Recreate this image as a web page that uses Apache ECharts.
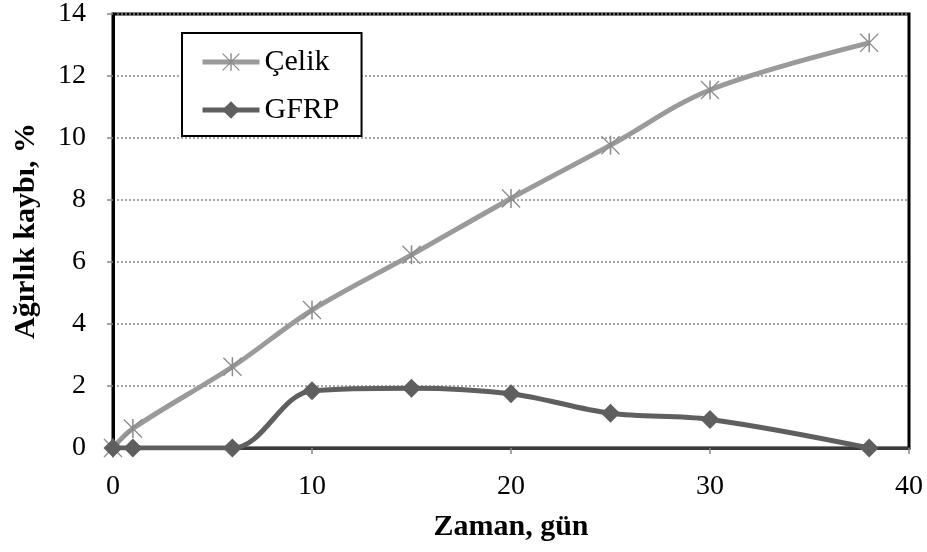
<!DOCTYPE html>
<html>
<head>
<meta charset="utf-8">
<script src="https://cdn.jsdelivr.net/npm/echarts@6/dist/echarts.min.js"></script>
<style>html,body{margin:0;padding:0;background:#fff;}#c{width:927px;height:552px;}</style>
</head>
<body>
<div id="c"></div>
<script>
var days = [0, 1, 6, 10, 15, 20, 25, 30, 38];
var celik = [0, 0.63, 2.62, 4.45, 6.23, 8.05, 9.77, 11.55, 13.07];
var gfrp = [0, 0, 0, 1.85, 1.93, 1.75, 1.12, 0.92, 0];
var seriesNames = ['Çelik', 'GFRP'];
var xTitle = 'Zaman, gün';
var yTitle = 'Ağırlık kaybı, %';

function pairs(xs, ys) { return xs.map(function (x, i) { return [x, ys[i]]; }); }

var starPath = 'path://M46,0 L54,0 L54,100 L46,100 Z M0,5 L5,0 L100,95 L95,100 Z M95,0 L100,5 L5,100 L0,95 Z';
var FONT = '"Liberation Serif", "Times New Roman", serif';

var chart = echarts.init(document.getElementById('c'), null, { renderer: 'canvas' });
chart.setOption({
  animation: false,
  backgroundColor: '#fff',
  grid: { left: 113, right: 18, top: 14, bottom: 104, show: true, borderColor: '#000', borderWidth: 3, backgroundColor: 'transparent' },
  legend: {
    orient: 'vertical', left: 182, top: 33,
    padding: [12, 22, 9, 18],
    itemGap: 14, itemWidth: 57, itemHeight: 22,
    borderColor: '#000', borderWidth: 2, backgroundColor: '#fff',
    lineStyle: { width: 5 },
    textStyle: { fontFamily: FONT, fontSize: 30, color: '#000', lineHeight: 34 },
    data: seriesNames
  },
  xAxis: {
    type: 'value', min: 0, max: 40, interval: 10,
    name: xTitle, nameLocation: 'middle', nameGap: 64,
    nameTextStyle: { fontFamily: FONT, fontSize: 30, fontWeight: 'bold', color: '#000' },
    axisLine: { show: true, onZero: false, lineStyle: { color: '#3a3a3a', width: 3 } },
    axisTick: { show: true, length: 6, lineStyle: { color: '#888', width: 1.5 } },
    axisLabel: { fontFamily: FONT, fontSize: 28, color: '#000', margin: 25 },
    splitLine: { show: false }
  },
  yAxis: {
    type: 'value', min: 0, max: 14, interval: 2,
    name: yTitle, nameLocation: 'middle', nameGap: 72, nameRotate: 90,
    nameTextStyle: { fontFamily: FONT, fontSize: 30, fontWeight: 'bold', color: '#000' },
    axisLine: { show: true, onZero: false, lineStyle: { color: '#000', width: 3 } },
    axisTick: { show: true, length: 6, lineStyle: { color: '#888', width: 1.5 } },
    axisLabel: { fontFamily: FONT, fontSize: 28, color: '#000', margin: 27 },
    splitLine: { show: true, lineStyle: { color: '#888', width: 1.5, type: [2, 2] } }
  },
  series: [
    {
      name: seriesNames[0], type: 'line', data: pairs(days, celik), smooth: 0.35,
      symbol: starPath, symbolSize: 19,
      lineStyle: { color: '#9a9a9a', width: 5 },
      itemStyle: { color: '#8c8c8c' },
      z: 3
    },
    {
      name: seriesNames[1], type: 'line', data: pairs(days, gfrp), smooth: 0.35,
      symbol: 'diamond', symbolSize: 19,
      lineStyle: { color: '#5f5f5f', width: 5 },
      itemStyle: { color: '#5f5f5f' },
      z: 4
    }
  ]
});
</script>
</body>
</html>
